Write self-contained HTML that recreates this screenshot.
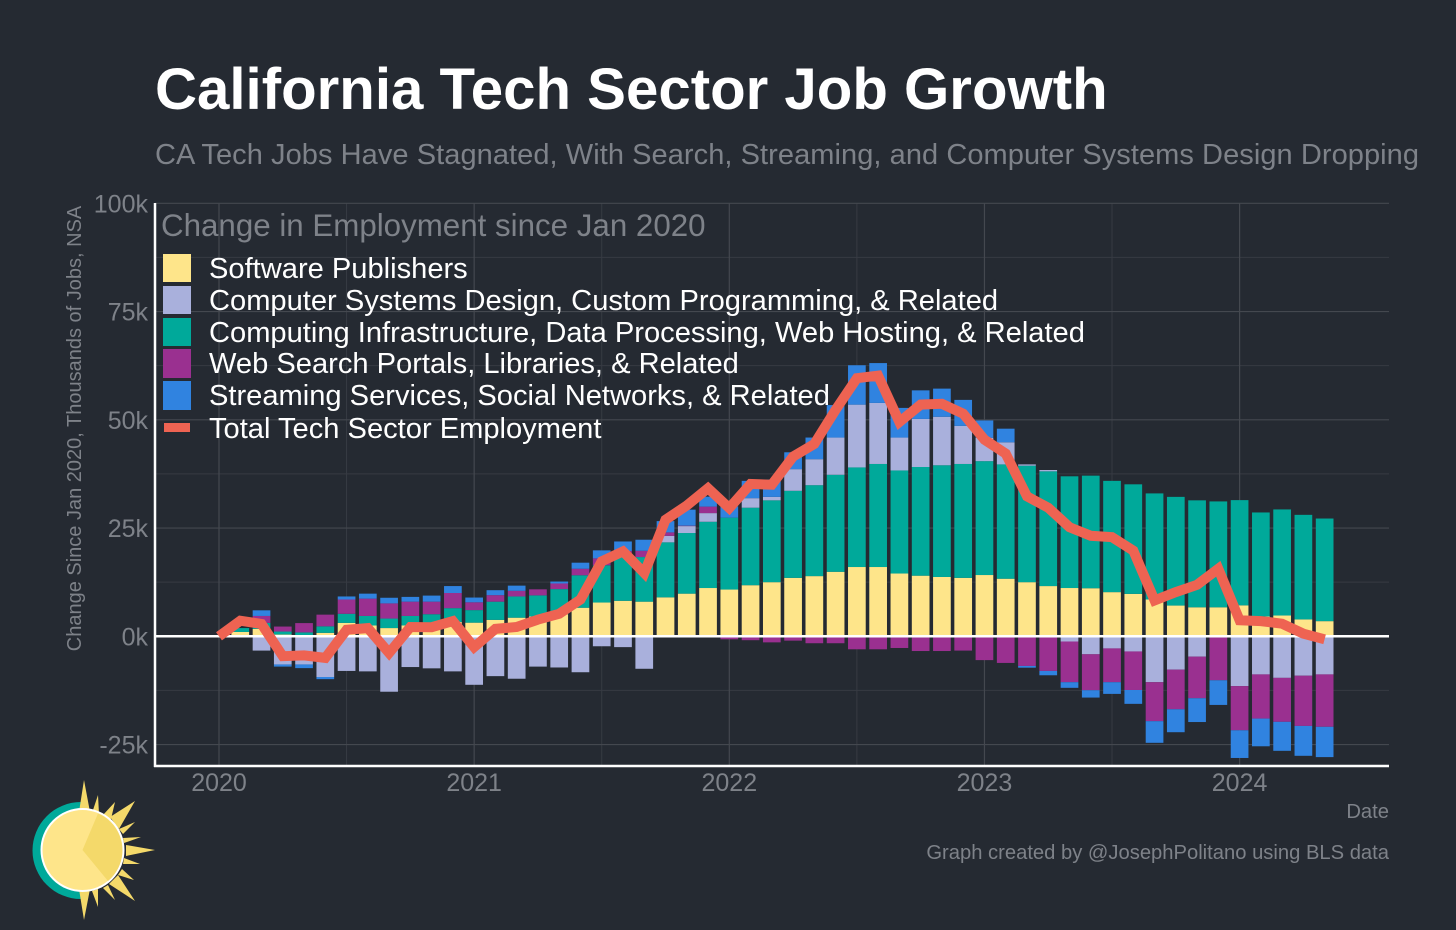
<!DOCTYPE html>
<html lang="en">
<head>
<meta charset="utf-8">
<title>California Tech Sector Job Growth</title>
<style>
html,body{margin:0;padding:0;background:#252a32;}
svg{display:block;font-family:"Liberation Sans",Arial,sans-serif;}
</style>
</head>
<body>
<svg id="chart" xmlns="http://www.w3.org/2000/svg" width="1456" height="930" viewBox="0 0 1456 930">
  <rect x="0" y="0" width="1456" height="930" fill="#252a32"/>
  <text x="155" y="109" font-size="58.2" font-weight="700" fill="#ffffff">California Tech Sector Job Growth</text>
  <text x="155" y="164" font-size="29" fill="#7e8289" textLength="1264" lengthAdjust="spacing">CA Tech Jobs Have Stagnated, With Search, Streaming, and Computer Systems Design Dropping</text>

  <g id="grid"></g>
  <g id="bars"></g>

  <g>
    <text x="161" y="236" font-size="31.3" fill="#7e8289">Change in Employment since Jan 2020</text>
    <rect x="163" y="254" width="28" height="28" fill="#fee58a"/>
    <text x="209" y="278" font-size="29.1" fill="#ffffff">Software Publishers</text>
    <rect x="163" y="286" width="28" height="28" fill="#a9b0dc"/>
    <text x="209" y="310" font-size="29.1" fill="#ffffff">Computer Systems Design, Custom Programming, &amp; Related</text>
    <rect x="163" y="318" width="28" height="28" fill="#00a99a"/>
    <text x="209" y="342" font-size="29.1" fill="#ffffff">Computing Infrastructure, Data Processing, Web Hosting, &amp; Related</text>
    <rect x="163" y="349" width="28" height="29" fill="#9a3090"/>
    <text x="209" y="373" font-size="29.1" fill="#ffffff">Web Search Portals, Libraries, &amp; Related</text>
    <rect x="163" y="381" width="28" height="29" fill="#3083e0"/>
    <text x="209" y="405" font-size="29.1" fill="#ffffff">Streaming Services, Social Networks, &amp; Related</text>
    <rect x="164" y="423" width="26" height="9" fill="#ee6352"/>
    <text x="209" y="438" font-size="29.1" fill="#ffffff">Total Tech Sector Employment</text>
  </g>

  <g id="overlay"></g>
  <g id="axes"></g>

  <text transform="translate(81,428.5) rotate(-90)" text-anchor="middle" font-size="20" fill="#7e8289">Change Since Jan 2020, Thousands of Jobs, NSA</text>
  <text x="1389" y="818" text-anchor="end" font-size="20.2" fill="#7e8289">Date</text>
  <text x="1389" y="859" text-anchor="end" font-size="20.2" fill="#7e8289">Graph created by @JosephPolitano using BLS data</text>

  <g>
    <path d="M81 802 A48.5 48.5 0 0 0 81 899 Z" fill="#00a99a"/>
    <path fill="#f4d96a" d="M79 812 L84 780 L90 812 Z M92 813 L98 795 L99 814 Z M103 815 L115 802 L111 819 Z M110 817 L135 801 L119 829 Z M119 829 L135 822 L123 834 Z M123 838 L141 837 L124 843 Z M126 845 L155 850 L126 856 Z M124 858 L140 864 L123 864 Z M122 869 L134 880 L118 875 Z M118 875 L135 901 L109 884 Z M108 885 L115 900 L103 888 Z M98 889 L98 907 L92 891 Z M90 889 L84 920 L79 889 Z"/>
    <circle cx="82.5" cy="850" r="41" fill="#fee58a" stroke="#ffffff" stroke-width="2"/>
    <path d="M82.5 850 L98 813.5 A40 40 0 0 1 108 881 Z" fill="#f4d96a"/>
  </g>
</svg>

<script>
const months = ["2020-01","2020-02","2020-03","2020-04","2020-05","2020-06","2020-07","2020-08","2020-09","2020-10","2020-11","2020-12",
"2021-01","2021-02","2021-03","2021-04","2021-05","2021-06","2021-07","2021-08","2021-09","2021-10","2021-11","2021-12",
"2022-01","2022-02","2022-03","2022-04","2022-05","2022-06","2022-07","2022-08","2022-09","2022-10","2022-11","2022-12",
"2023-01","2023-02","2023-03","2023-04","2023-05","2023-06","2023-07","2023-08","2023-09","2023-10","2023-11","2023-12",
"2024-01","2024-02","2024-03","2024-04","2024-05"];
const softwarePublishers = [0,1,1.7,.4,.3,.8,3.1,2.5,1.9,2.5,2.2,3.3,3.15,3.8,4.3,4.6,5.1,6.6,7.8,8.2,8,9,9.85,11.15,10.8,11.8,12.5,13.5,13.9,14.9,16,16,14.5,14,13.7,13.5,14.15,13.3,12.5,11.6,11.15,11.1,10.2,9.8,8.5,7.1,6.7,6.7,7.15,4.6,4.8,3.9,3.5];
const computingInfrastructure = [0,.9,1.4,.7,.6,1.5,2.1,2.2,2.2,2.2,2.9,3.2,2.9,4.2,4.9,4.85,5.8,7.5,8.6,10.5,10.3,12.7,14,15.3,16.6,17.9,18.9,20.1,21,22.4,23,23.8,23.8,25.1,25.8,26.3,26.3,26.4,26.9,26.5,25.8,26,25.7,25.3,24.5,25.1,24.7,24.45,24.3,24,24.5,24.15,23.7];
const computerSystems = [0,0,-3.3,-6.5,-6.5,-9.4,-8,-8.1,-12.8,-7.1,-7.4,-8.1,-11.2,-9.2,-9.8,-7,-7.2,-8.3,-2.3,-2.5,-7.5,1.5,1.6,2,0,2.2,.8,5,6,8.6,14.5,14.1,7.6,11.1,11.2,8.8,5.4,5.1,.3,.3,-1.2,-4.15,-2.8,-3.5,-10.6,-7.7,-4.7,0,-11.5,-8.8,-9.6,-9.1,-8.8];
const webSearch = [0,0,1.6,1.15,2.15,2.7,3.3,4,3.5,3.3,2.9,3.5,1.8,1.5,1.3,1.4,1.3,1.5,1.6,1,1.45,.8,.1,1.5,-.7,-.9,-1.4,-1,-1.6,-1.6,-3,-3,-2.7,-3.4,-3.4,-3.3,-5.5,-6.15,-6.85,-8,-9.4,-8.3,-7.8,-8.9,-9,-9.15,-9.6,-10.15,-10.2,-10.2,-10.15,-11.6,-12.1];
const streaming = [0,0,1.3,-.5,-.85,-.5,.7,1.15,1.3,1.1,1.4,1.6,1.1,1.15,1.2,0,.45,1.4,1.85,2.2,2.55,2.6,3.7,2.3,2.6,4,4,3.9,5,7.5,9.1,9.2,6.85,6.6,6.5,6,4,3.15,-.4,-1,-1.3,-1.7,-2.7,-3.2,-5,-5.3,-5.5,-5.7,-6.4,-6.4,-6.7,-6.9,-7];
const totalEmployment = [0,3.6,2.85,-4.6,-4.4,-5,1.5,1.9,-3.85,2.15,2.1,3.5,-2.5,1.7,2.15,3.85,5.2,8.5,17.3,19.6,14.6,26.9,30.2,34.2,29.6,35.2,35,41.5,44.4,52.3,59.6,60.2,49.5,53.5,53.7,51.4,45.4,42.2,32.3,29.7,25.2,23.2,22.9,19.8,8.3,10.2,11.9,15.6,3.7,3.5,2.9,.6,-.7];
const yTickValues = [-25,0,25,50,75,100];
const yTickLabels = ["-25k","0k","25k","50k","75k","100k"];
const yMinorValues = [-12.5,12.5,37.5,62.5,87.5];
const xTickYears = [2020,2021,2022,2023,2024];
const xMinorYears = [2020.5,2021.5,2022.5,2023.5];
const seriesOrder = [
  {key:"software",values:softwarePublishers,color:"#fee58a"},
  {key:"computing-infrastructure",values:computingInfrastructure,color:"#00a99a"},
  {key:"computer-systems",values:computerSystems,color:"#a9b0dc"},
  {key:"web-search",values:webSearch,color:"#9a3090"},
  {key:"streaming",values:streaming,color:"#3083e0"}
];

const NS = "http://www.w3.org/2000/svg";
const panel = {left:155,right:1389,top:203,bottom:766};
function yScale(v){return 636.3 + (0 - v) * 4.33;}
function xYear(y){return 219 + (y - 2020) * 255.15;}
function xMonth(m){
  const p = m.split("-");
  return xYear(Number(p[0]) + (Number(p[1]) - 1) / 12);
}
const barWidth = 17.7;

function make(tag, attrs){
  const el = document.createElementNS(NS, tag);
  for (const k in attrs) el.setAttribute(k, attrs[k]);
  return el;
}

const grid = document.getElementById("grid");
yMinorValues.forEach(function(v){
  const l = make("line",{x1:panel.left,x2:panel.right,y1:yScale(v),y2:yScale(v),stroke:"#373b43","stroke-width":1});
  
  
  grid.appendChild(l);
});
xMinorYears.forEach(function(v){
  const l = make("line",{x1:xYear(v),x2:xYear(v),y1:panel.top,y2:panel.bottom,stroke:"#373b43","stroke-width":1});
  
  
  grid.appendChild(l);
});
yTickValues.forEach(function(v){
  const l = make("line",{x1:panel.left,x2:panel.right,y1:yScale(v),y2:yScale(v),stroke:"#44484f","stroke-width":1.2});
  
  
  grid.appendChild(l);
});
xTickYears.forEach(function(v){
  const l = make("line",{x1:xYear(v),x2:xYear(v),y1:panel.top,y2:panel.bottom,stroke:"#44484f","stroke-width":1.2});
  
  
  grid.appendChild(l);
});

const barsGroup = document.getElementById("bars");
months.forEach(function(m, i){
  let pos = 0, neg = 0;
  seriesOrder.forEach(function(s){
    const v = s.values[i];
    if (!v) return;
    let a, b;
    if (v > 0){ a = pos; b = pos + v; pos = b; }
    else { a = neg; b = neg + v; neg = b; }
    const top = yScale(Math.max(a, b));
    const bottom = yScale(Math.min(a, b));
    const r = make("rect",{x:xMonth(m) - barWidth / 2,y:top,width:barWidth,height:bottom - top,fill:s.color});
    
    
    barsGroup.appendChild(r);
  });
});

const overlay = document.getElementById("overlay");
const zero = make("line",{x1:panel.left,x2:panel.right,y1:yScale(0),y2:yScale(0),stroke:"#ffffff","stroke-width":2.5});


overlay.appendChild(zero);
const totalPts = months.map(function(m, i){ return xMonth(m).toFixed(1) + "," + yScale(totalEmployment[i]).toFixed(1); }).join(" ");
const totalLine = make("polyline",{points:totalPts,fill:"none",stroke:"#ee6352","stroke-width":10,"stroke-linejoin":"miter","stroke-miterlimit":4});


overlay.appendChild(totalLine);

const axes = document.getElementById("axes");
const yAxis = make("line",{x1:panel.left,x2:panel.left,y1:panel.top,y2:panel.bottom + 1,stroke:"#ffffff","stroke-width":2.5});


axes.appendChild(yAxis);
const xAxis = make("line",{x1:panel.left - 1,x2:panel.right,y1:panel.bottom,y2:panel.bottom,stroke:"#ffffff","stroke-width":2.5});


axes.appendChild(xAxis);
yTickValues.forEach(function(v, i){
  const t = make("text",{x:148,y:yScale(v) + 9,"text-anchor":"end","font-size":25,fill:"#7e8289"});
  
  
  t.textContent = yTickLabels[i];
  axes.appendChild(t);
});
xTickYears.forEach(function(y){
  const t = make("text",{x:xYear(y),y:791,"text-anchor":"middle","font-size":25,fill:"#7e8289"});
  
  
  t.textContent = String(y);
  axes.appendChild(t);
});
</script>
</body>
</html>
